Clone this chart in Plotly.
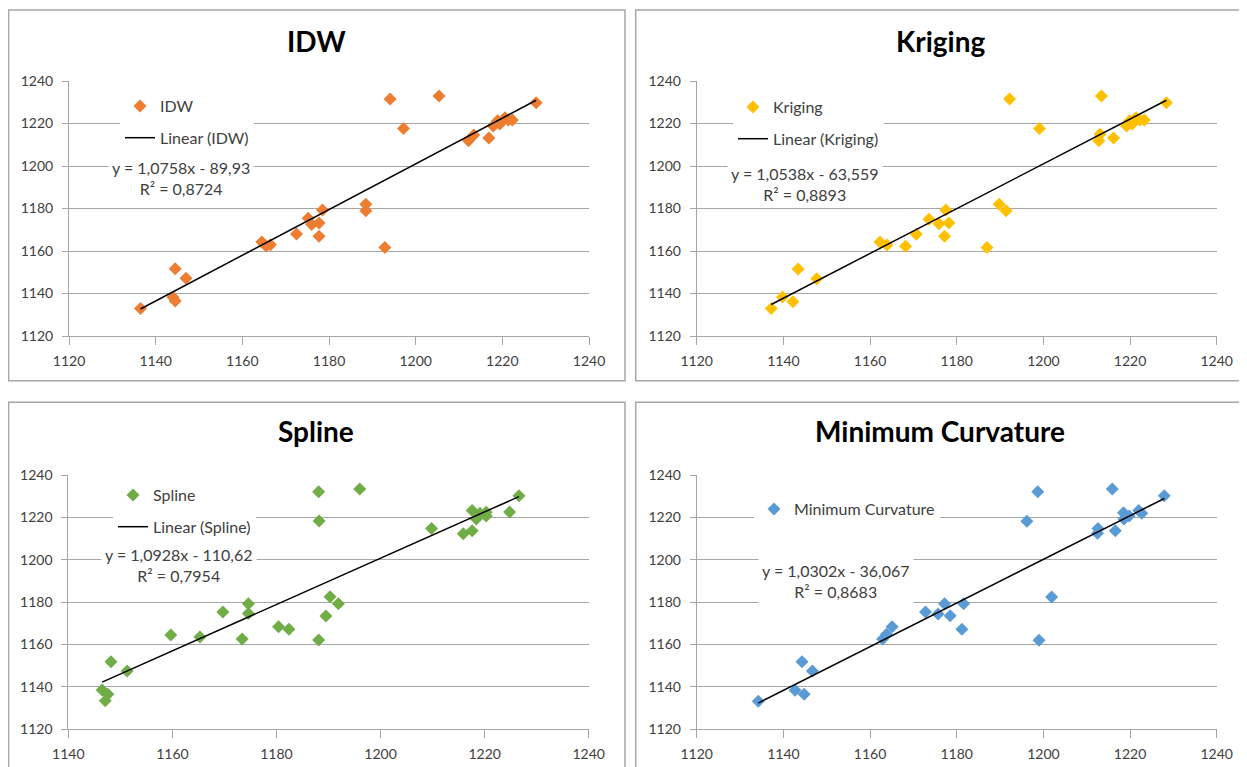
import plotly.graph_objects as go

# The page body adds an 8px margin, so the figure is drawn 8px in and 8px down.
OFF = 8
W, H = 1247 - OFF, 767 - OFF

# ---------------- data ----------------
idw_x = [1136.5, 1144.0, 1144.5, 1144.5, 1147.0, 1164.5, 1165.5, 1166.5, 1172.5, 1175.2, 1176.0,
         1177.7, 1177.7, 1178.5, 1188.5, 1188.5, 1192.9, 1194.1, 1197.2, 1205.4, 1212.2, 1213.4,
         1216.9, 1217.9, 1218.9, 1219.4, 1220.6, 1221.4, 1222.3, 1227.8]
idw_y = [1133.0, 1138.2, 1136.5, 1151.6, 1147.2, 1164.2, 1162.3, 1163.0, 1168.0, 1175.4, 1172.5,
         1173.2, 1166.9, 1179.3, 1182.0, 1179.0, 1161.7, 1231.5, 1217.6, 1233.0, 1211.9, 1214.6,
         1213.2, 1218.8, 1221.3, 1219.8, 1222.7, 1221.6, 1221.6, 1229.8]

krig_x = [1137.2, 1139.8, 1142.2, 1143.4, 1147.7, 1162.3, 1163.9, 1168.2, 1170.7, 1173.6, 1175.9,
          1177.5, 1178.2, 1177.2, 1187.0, 1189.8, 1191.4, 1192.2, 1199.1, 1213.4, 1212.8, 1213.1,
          1216.2, 1219.2, 1219.9, 1220.5, 1221.4, 1222.3, 1223.3, 1228.4]
krig_y = [1132.9, 1138.4, 1136.1, 1151.5, 1147.0, 1164.2, 1162.8, 1162.2, 1167.9, 1175.0, 1172.8,
          1179.3, 1173.2, 1166.9, 1161.7, 1182.0, 1179.0, 1231.5, 1217.6, 1233.0, 1211.9, 1214.9,
          1213.2, 1218.8, 1221.3, 1219.8, 1222.7, 1221.6, 1221.6, 1229.8]

spl_x = [1146.5, 1147.6, 1147.1, 1148.2, 1151.3, 1159.7, 1165.3, 1169.7, 1173.4, 1174.6, 1174.6,
         1180.4, 1182.4, 1188.1, 1188.2, 1188.1, 1190.3, 1189.5, 1191.9, 1196.0, 1209.8, 1215.9,
         1217.6, 1217.6, 1218.4, 1219.1, 1220.3, 1220.3, 1224.8, 1226.6]
spl_y = [1138.5, 1136.5, 1133.5, 1151.9, 1147.5, 1164.5, 1163.6, 1175.3, 1162.6, 1179.3, 1174.7,
         1168.4, 1167.2, 1232.1, 1218.3, 1162.1, 1182.6, 1173.5, 1179.3, 1233.4, 1214.8, 1212.3,
         1213.7, 1223.3, 1219.2, 1221.9, 1220.7, 1222.4, 1222.5, 1230.2]

mc_x = [1134.2, 1142.7, 1144.8, 1144.3, 1146.7, 1162.9, 1163.8, 1165.1, 1172.8, 1175.7, 1177.2,
        1178.5, 1181.2, 1181.6, 1196.2, 1198.7, 1199.0, 1201.9, 1212.6, 1212.5, 1215.9, 1216.6,
        1218.5, 1218.6, 1219.8, 1222.0, 1222.7, 1227.9]
mc_y = [1133.2, 1138.4, 1136.5, 1151.9, 1147.5, 1162.6, 1164.8, 1168.4, 1175.3, 1174.4, 1179.3,
        1173.6, 1167.2, 1179.3, 1218.2, 1232.1, 1162.0, 1182.4, 1214.8, 1212.5, 1233.4, 1213.7,
        1222.2, 1219.2, 1220.7, 1223.2, 1222.0, 1230.2]

titles = ["IDW", "Kriging", "Spline", "Minimum Curvature"]
slopes = [1.0758, 1.0538, 1.0928, 1.0302]
intercepts = [-89.93, -63.559, -110.62, -36.067]
eq_texts = ["y = 1,0758x - 89,93<br>R² = 0,8724",
            "y = 1,0538x - 63,559<br>R² = 0,8893",
            "y = 1,0928x - 110,62<br>R² = 0,7954",
            "y = 1,0302x - 36,067<br>R² = 0,8683"]
colors = ["#ED7D31", "#FFC000", "#70AD47", "#5B9BD5"]
x_ranges = [[1120, 1240], [1120, 1240], [1140, 1240], [1120, 1240]]
y_range = [1120, 1240]
tick_step = 20

series_x = [idw_x, krig_x, spl_x, mc_x]
series_y = [idw_y, krig_y, spl_y, mc_y]

# ---------------- layout helpers (screen pixel -> paper) ----------------
def px(x):
    return (x - OFF) / W

def py(y):
    return 1 - (y - OFF) / H

# plot areas in screen pixels: (left, right, top, bottom)
plot_px = [(69, 589, 81, 336), (696.7, 1216.7, 81, 336),
           (68.3, 588.7, 475, 729.3), (696.7, 1216.7, 475, 729.3)]
# panel frames in screen pixels
frames = [(8.6, 625, 10, 380.7), (635.7, 1245, 10, 380.7),
          (8.6, 625, 402.3, 800), (635.7, 1245, 402.3, 800)]
title_pos = [(316, 41), (940, 41), (316, 431), (940, 431)]
legend_pos = [(120, 89), (733, 90), (113, 478), (754, 492)]
# extra white legend-box areas (screen px: x0, x1, y0, y1) that hide gridlines like the original
legend_boxes = [(115, 253, 88, 150), (728, 880, 90, 152), (108, 259, 478, 540), (721.7, 961.7, 497, 522)]
eq_pos = [(181, 178), (805, 184), (179, 565), (836, 581)]

FONT = "Lato"
TXT = "#404040"
GRID = "#A6A6A6"

fig = go.Figure()
layout = dict(template="none", width=W, height=H, autosize=False,
              margin=dict(l=0, r=0, t=0, b=0, pad=0, autoexpand=False),
              paper_bgcolor="white", plot_bgcolor="white",
              font=dict(family=FONT, size=14, color=TXT))
annotations = []
shapes = []

for i in range(4):
    sfx = "" if i == 0 else str(i + 1)
    xa, ya = "x" + sfx, "y" + sfx
    leg = "legend" + sfx
    gname = titles[i]
    fig.add_trace(go.Scatter(
        x=series_x[i], y=series_y[i], mode="markers", name=titles[i],
        marker=dict(symbol="diamond", size=10, color=colors[i], line=dict(width=0)),
        xaxis=xa, yaxis=ya, legend=leg, legendgroup=gname + "a"))
    x0, x1 = min(series_x[i]), max(series_x[i])
    fig.add_trace(go.Scatter(
        x=[x0, x1], y=[slopes[i] * x0 + intercepts[i], slopes[i] * x1 + intercepts[i]],
        mode="lines", name="Linear (" + titles[i] + ")",
        line=dict(color="black", width=1.5),
        xaxis=xa, yaxis=ya, legend=leg, legendgroup=gname + "b",
        showlegend=(i != 3)))

    l, r, t, b = plot_px[i]
    axis_common = dict(showline=True, linecolor=GRID, linewidth=1, ticks="outside",
                       tickcolor=GRID, tickfont=dict(family=FONT, size=14, color=TXT),
                       zeroline=False, fixedrange=True, automargin=False)
    layout["xaxis" + sfx] = dict(domain=[px(l), px(r)], range=x_ranges[i], dtick=tick_step,
                                 tick0=x_ranges[i][0], showgrid=False, anchor=ya,
                                 ticklen=8, ticklabelstandoff=4, **axis_common)
    layout["yaxis" + sfx] = dict(domain=[py(b), py(t)], range=y_range, dtick=tick_step,
                                 tick0=y_range[0], showgrid=True, gridcolor=GRID, gridwidth=1,
                                 anchor=xa, ticklen=6, ticklabelstandoff=6, **axis_common)
    lx, ly = legend_pos[i]
    layout[leg] = dict(x=px(lx), y=py(ly), xanchor="left", yanchor="top", xref="paper",
                       yref="paper", bgcolor="white", borderwidth=0,
                       font=dict(family=FONT, size=16, color=TXT),
                       traceorder="grouped", tracegroupgap=8)

    bx0, bx1, by0, by1 = legend_boxes[i]
    shapes.append(dict(type="rect", xref="paper", yref="paper",
                       x0=px(bx0), x1=px(bx1), y0=py(by1), y1=py(by0),
                       line=dict(width=0), fillcolor="white", layer="between"))

    fl, fr, ft, fb = frames[i]
    shapes.append(dict(type="rect", xref="paper", yref="paper",
                       x0=px(fl), x1=px(fr), y0=py(fb), y1=py(ft),
                       line=dict(color="#A6A6A6", width=1.5), fillcolor="rgba(0,0,0,0)",
                       layer="below"))
    tx, ty = title_pos[i]
    annotations.append(dict(text="<b>" + titles[i] + "</b>", xref="paper", yref="paper",
                            x=px(tx), y=py(ty), xanchor="center", yanchor="middle",
                            showarrow=False, font=dict(family=FONT, size=28, color="black")))
    ex, ey = eq_pos[i]
    annotations.append(dict(text=eq_texts[i], xref="paper", yref="paper",
                            x=px(ex), y=py(ey), xanchor="center", yanchor="middle",
                            showarrow=False, align="center", bgcolor="white", borderpad=3,
                            font=dict(family=FONT, size=16, color=TXT)))

layout["annotations"] = annotations
layout["shapes"] = shapes
fig.update_layout(**layout)
fig.write_html("out.html")
